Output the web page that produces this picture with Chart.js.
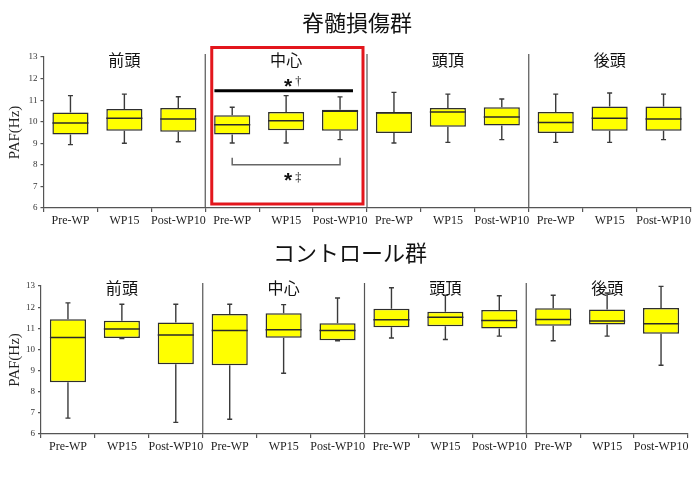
<!DOCTYPE html>
<html><head><meta charset="utf-8">
<script src="https://cdn.jsdelivr.net/npm/chart.js@4.4.1/dist/chart.umd.min.js"></script>
<style>
html,body{margin:0;padding:0;background:#fff;}
#wrap{position:relative;width:700px;height:479px;overflow:hidden;background:#fff;}
canvas{position:absolute;left:0;}
</style></head><body>
<div id="wrap">
<canvas id="c1" width="700" height="240" style="top:0"></canvas>
<canvas id="c2" width="700" height="239" style="top:240px"></canvas>
</div>
<script>
// ---- data ----
const categories = ['Pre-WP','WP15','Post-WP10','Pre-WP','WP15','Post-WP10','Pre-WP','WP15','Post-WP10','Pre-WP','WP15','Post-WP10'];
const regions = ['前頭','中心','頭頂','後頭'];
const yTicks = [6,7,8,9,10,11,12,13];
const titleSCI = '脊髄損傷群';
const titleCtrl = 'コントロール群';
const yTitle = 'PAF(Hz)';

// 脊髄損傷群
const sciMin = [8.94,9.00,9.07, 9.01,9.01,9.17, 9.01,9.04,9.17, 9.04,9.04,9.17];
const sciQ1  = [9.41,9.58,9.54, 9.41,9.60,9.58, 9.48,9.77,9.82, 9.48,9.58,9.58];
const sciMed = [9.94,10.16,10.13, 9.86,10.05,10.48, 10.42,10.45,10.22, 9.96,10.16,10.13];
const sciQ3  = [10.43,10.59,10.64, 10.30,10.45,10.56, 10.44,10.64,10.67, 10.45,10.71,10.70];
const sciMax = [11.21,11.28,11.16, 10.67,11.21,11.15, 11.36,11.28,11.05, 11.28,11.33,11.28];

// コントロール群
const ctlMin = [6.75,10.52,6.55, 6.70,8.87,10.41, 10.54,10.47,10.63, 10.41,10.63,9.25];
const ctlQ1  = [8.45,10.54,9.30, 9.25,10.55,10.43, 11.05,11.10,10.99, 11.12,11.18,10.74];
const ctlMed = [10.57,10.97,10.68, 10.90,10.93,10.90, 11.40,11.52,11.37, 11.41,11.34,11.21];
const ctlQ3  = [11.43,11.36,11.27, 11.68,11.71,11.24, 11.92,11.78,11.87, 11.95,11.89,11.96];
const ctlMax = [12.20,12.14,12.14, 12.14,12.12,12.43, 12.92,12.56,12.54, 12.56,12.67,12.98];

const sigLabels = ['*','†','*','‡'];

// ---- helpers ----
const serif = 'Liberation Serif';
const cjk = '"Noto Sans CJK JP"';

function boxPlugin(mins, meds, maxs){
  return {
    id:'boxparts',
    afterDatasetsDraw(chart){
      const ctx = chart.ctx, y = chart.scales.y;
      const meta = chart.getDatasetMeta(0);
      const q1 = chart.data.datasets[0].data;
      ctx.save();
      meta.data.forEach((bar,i)=>{
        const x = bar.x, w = bar.width;
        const yMin = y.getPixelForValue(mins[i]), yMax = y.getPixelForValue(maxs[i]);
        const yQ1 = y.getPixelForValue(q1[i][0]), yQ3 = y.getPixelForValue(q1[i][1]);
        ctx.strokeStyle = '#3a3a3a'; ctx.lineWidth = 1.4;
        ctx.beginPath();
        ctx.moveTo(x, yQ3); ctx.lineTo(x, yMax);
        ctx.moveTo(x, yQ1); ctx.lineTo(x, yMin);
        ctx.moveTo(x-2.5, yMax); ctx.lineTo(x+2.5, yMax);
        ctx.moveTo(x-2.5, yMin); ctx.lineTo(x+2.5, yMin);
        ctx.stroke();
        const yMed = y.getPixelForValue(meds[i]);
        ctx.strokeStyle = '#2a2a2a'; ctx.lineWidth = 1.5;
        ctx.beginPath();
        ctx.moveTo(x-w/2, yMed); ctx.lineTo(x+w/2, yMed);
        ctx.stroke();
      });
      ctx.restore();
    }
  };
}

function framePlugin(title, titleX, titleY, labelDy){
  return {
    id:'frame',
    beforeDatasetsDraw(chart){
      const ctx = chart.ctx, xs = chart.scales.x, a = chart.chartArea;
      ctx.save();
      ctx.strokeStyle = '#555'; ctx.lineWidth = 1.2;
      [2,5,8].forEach(i=>{
        const bx = (xs.getPixelForValue(i)+xs.getPixelForValue(i+1))/2;
        ctx.beginPath(); ctx.moveTo(bx, a.top-3); ctx.lineTo(bx, a.bottom); ctx.stroke();
      });
      ctx.restore();
    },
    afterDraw(chart){
      const ctx = chart.ctx, xs = chart.scales.x, a = chart.chartArea;
      ctx.save();
      ctx.fillStyle = '#111';
      ctx.textAlign = 'center'; ctx.textBaseline = 'middle';
      ctx.font = '400 22px ' + cjk;
      ctx.fillText(title, titleX, titleY);
      ctx.font = '400 16px ' + cjk;
      regions.forEach((r,g)=>{
        const cx = xs.getPixelForValue(g*3+1);
        ctx.fillText(r, cx, a.top + labelDy);
      });
      ctx.restore();
    }
  };
}

function glyphAt(ctx, s, x, yc){
  const m = ctx.measureText(s);
  const asc = m.actualBoundingBoxAscent, desc = m.actualBoundingBoxDescent;
  ctx.textBaseline = 'alphabetic';
  ctx.fillText(s, x, yc + (asc - desc)/2);
}

const sigPlugin = {
  id:'sig',
  afterDraw(chart){
    const ctx = chart.ctx, xs = chart.scales.x, y = chart.scales.y, a = chart.chartArea;
    const x3 = xs.getPixelForValue(3), x4 = xs.getPixelForValue(4), x5 = xs.getPixelForValue(5);
    const w = x4 - x3;
    const left = (xs.getPixelForValue(2)+x3)/2, right = (x5+xs.getPixelForValue(6))/2;
    ctx.save();
    // red frame
    ctx.strokeStyle = '#e3161c'; ctx.lineWidth = 3;
    ctx.strokeRect(left+6.5, a.top-9.5, (right-4)-(left+6.5), (a.bottom-4)-(a.top-9.5));
    // thick line
    ctx.strokeStyle = '#000'; ctx.lineWidth = 3;
    const yl = y.getPixelForValue(11.44);
    ctx.beginPath(); ctx.moveTo(x3-0.33*w, yl); ctx.lineTo(x5+0.24*w, yl); ctx.stroke();
    // bracket
    ctx.strokeStyle = '#666'; ctx.lineWidth = 1.5;
    const yb = y.getPixelForValue(8.0), yt = y.getPixelForValue(8.33);
    ctx.beginPath(); ctx.moveTo(x3, yt); ctx.lineTo(x3, yb); ctx.lineTo(x5, yb); ctx.lineTo(x5, yt); ctx.stroke();
    // symbols
    ctx.fillStyle = '#111'; ctx.textAlign = 'center';
    ctx.font = 'bold 21px "Liberation Sans"';
    glyphAt(ctx, sigLabels[0], x4+2, y.getPixelForValue(11.8));
    glyphAt(ctx, sigLabels[2], x4+2, y.getPixelForValue(7.45));
    ctx.font = '12px ' + serif;
    glyphAt(ctx, sigLabels[1], x4+12, y.getPixelForValue(11.85));
    glyphAt(ctx, sigLabels[3], x4+12, y.getPixelForValue(7.4));
    ctx.restore();
  }
};

function makeChart(id, q1, q3, mins, meds, maxs, P, plugins){
  return new Chart(document.getElementById(id), {
    type:'bar',
    data:{
      labels: categories,
      datasets:[{
        data: q1.map((v,i)=>[v, q3[i]]),
        backgroundColor:'#ffff00',
        borderColor:'#2e2e2e',
        borderWidth:1.5,
        borderSkipped:false,
        barPercentage:0.67,
        categoryPercentage:1.0
      }]
    },
    options:{
      responsive:false, animation:false, devicePixelRatio:1,
      layout:{padding:{top:P.top, right:P.right, left:0, bottom:0}},
      plugins:{legend:{display:false}, tooltip:{enabled:false}, title:{display:false}},
      scales:{
        x:{
          type:'category', offset:true,
          grid:{offset:true, drawOnChartArea:false, drawTicks:true, tickLength:4, color:'#555', lineWidth:1.2},
          border:{display:true, color:'#555', width:1.2},
          ticks:{font:{family:serif, size:12}, color:'#222', padding:2, maxRotation:0, autoSkip:false},
          afterFit(s){ s.height = P.xh; }
        },
        y:{
          min:6, max:13,
          afterBuildTicks(s){ s.ticks = yTicks.map(v=>({value:v})); },
          ticks:{font:{family:serif, size:9}, color:'#333', padding:3},
          grid:{drawOnChartArea:false, tickLength:3, color:'#555', lineWidth:1.2},
          border:{display:true, color:'#555', width:1.2},
          title:{display:true, text:yTitle, font:{family:serif, size:15}, color:'#222', padding:{top:6, bottom:0}},
          afterFit(s){ s.width = P.yw; }
        }
      }
    },
    plugins: plugins
  });
}

makeChart('c1', sciQ1, sciQ3, sciMin, sciMed, sciMax,
  {top:57, right:9.5, xh:32, yw:43.5},
  [boxPlugin(sciMin, sciMed, sciMax), framePlugin(titleSCI, 357, 23, 3), sigPlugin]);

makeChart('c2', ctlQ1, ctlQ3, ctlMin, ctlMed, ctlMax,
  {top:46, right:12, xh:45, yw:41},
  [boxPlugin(ctlMin, ctlMed, ctlMax), framePlugin(titleCtrl, 350, 13, 2)]);
</script>
</body></html>
